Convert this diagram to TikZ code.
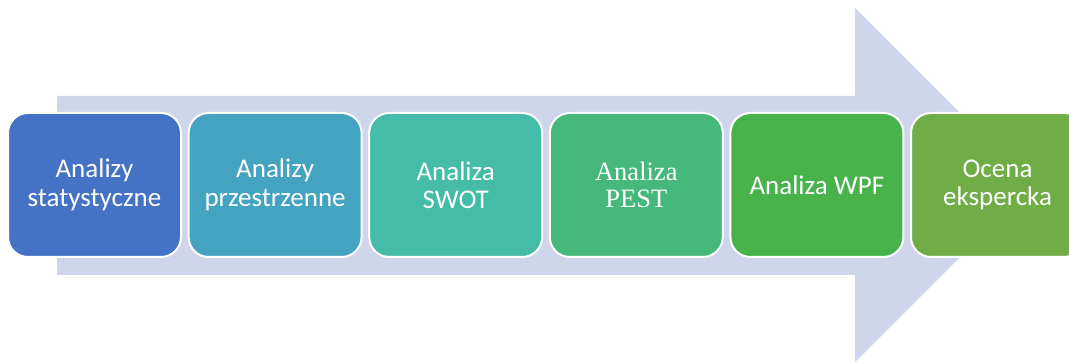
\documentclass[tikz,border=0pt]{standalone}
\usepackage{fontspec}
\setmainfont{Carlito}
\newfontfamily\serifpest{Liberation Serif}
\definecolor{arrowcol}{HTML}{CFD5EA}
\definecolor{cA}{HTML}{4472C4}
\definecolor{cB}{HTML}{43A3C0}
\definecolor{cC}{HTML}{44BCA7}
\definecolor{cD}{HTML}{46B97A}
\definecolor{cE}{HTML}{48B34A}
\definecolor{cF}{HTML}{70AD47}
\begin{document}
\begin{tikzpicture}[x=1pt,y=1pt,
  stagebox/.style={draw=white, line width=2pt, rounded corners=20pt,
    minimum width=173pt, minimum height=144pt, inner sep=0pt,
    text=white, align=center,
    font=\fontsize{27}{28.5}\selectfont}]
\useasboundingbox (0,0) rectangle (1069,363);
\clip (0,0) rectangle (1069,363);
\fill[arrowcol] (57,88) -- (57,267) -- (855,267) -- (855,355) -- (1032,178)
  -- (855,1) -- (855,88) -- cycle;
\node[stagebox, fill=cA] (s1) at (94.5,178) {Analizy\\statystyczne};
\node[stagebox, fill=cB] (s2) at (275.1,178) {Analizy\\przestrzenne};
\node[stagebox, fill=cC] (s3) at (455.7,178) {Analiza\\SWOT};
\node[stagebox, fill=cD, font=\serifpest\fontsize{26.5}{27.5}\selectfont] (s4) at (636.3,178) {Analiza\\PEST};
\node[stagebox, fill=cE] (s5) at (816.9,178) {Analiza WPF};
\node[stagebox, fill=cF] (s6) at (997.5,178) {Ocena\\ekspercka};
\end{tikzpicture}
\end{document}
